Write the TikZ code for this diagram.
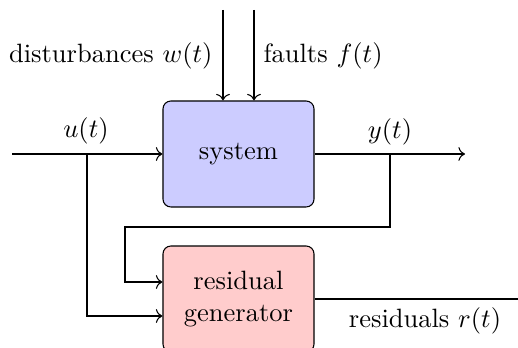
\documentclass[tikz,border=0pt]{standalone}
\usetikzlibrary{arrows.meta}
\begin{document}
\begin{tikzpicture}[x=0.3774pt,y=-0.3774pt,
  blockbox/.style={draw=black, rounded corners=3pt, minimum width=57pt, minimum height=40pt, align=center, inner sep=0pt},
  sig/.style={->}]
\useasboundingbox (0,0) rectangle (518,348);
\node[blockbox, fill=blue!20] (sys) at (238.5,154) {system};
\node[blockbox, fill=red!20] (res) at (238.5,299) {residual\\generator};
% input
\coordinate (in) at (12,154);
\coordinate (ub) at (87,154);
\coordinate (ud) at (87,316);
\draw[sig] (in) -- (sys.west);
\node (ulab) at (86,131) {$u(t)$};
\draw[sig] (ub) -- (ud) -- (res.west |- ud);
% output
\coordinate (out) at (465,154);
\coordinate (yb) at (390,154);
\coordinate (y1) at (390,227);
\coordinate (y2) at (125,227);
\coordinate (y3) at (125,282);
\draw[sig] (sys.east) -- (out);
\node (ylab) at (390,132) {$y(t)$};
\draw[sig] (yb) -- (y1) -- (y2) -- (y3) -- (res.west |- y3);
% disturbances and faults
\coordinate (wtop) at (223,10);
\coordinate (ftop) at (254,10);
\draw[sig] (wtop) -- (wtop |- sys.north);
\draw[sig] (ftop) -- (ftop |- sys.north);
\node[anchor=east, inner sep=0pt] (wlab) at (213,55.5) {disturbances $w(t)$};
\node[anchor=west, inner sep=0pt] (flab) at (263,55.5) {faults $f(t)$};
% residuals
\coordinate (rend) at (518,299);
\draw (res.east) -- (rend);
\node (rlab) at (425,321) {residuals $r(t)$};
\end{tikzpicture}
\end{document}
